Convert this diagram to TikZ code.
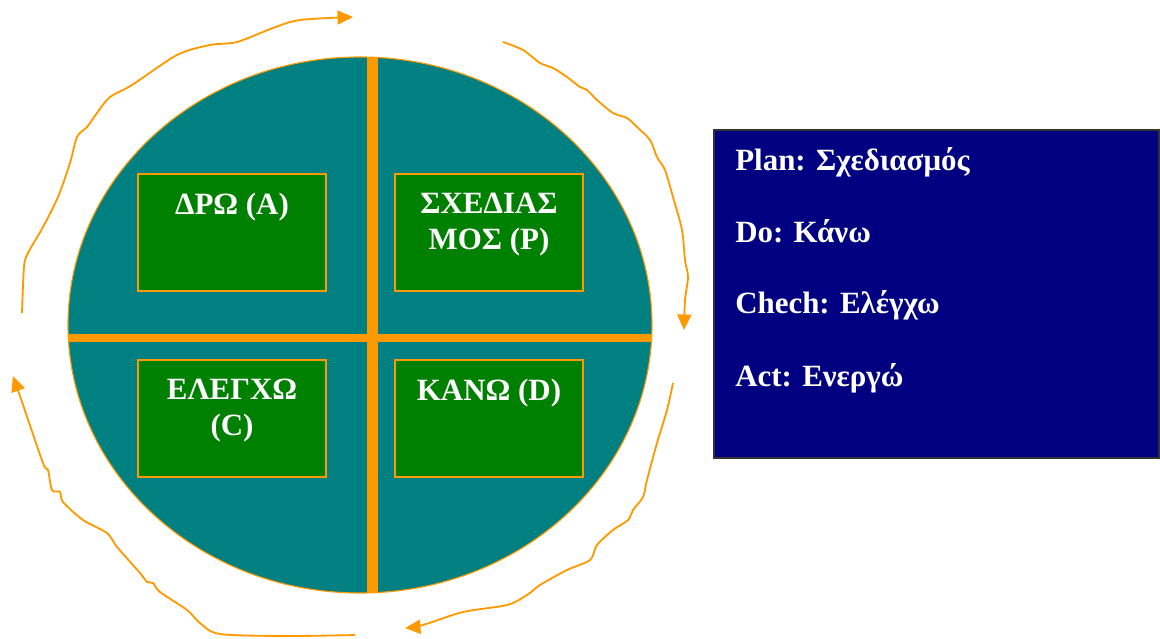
\documentclass[tikz,border=0pt]{standalone}
\usepackage{fontspec}
\setmainfont{Liberation Serif}
\usetikzlibrary{arrows.meta}
\definecolor{discteal}{HTML}{008080}
\definecolor{quadgreen}{HTML}{008000}
\definecolor{cycleorange}{HTML}{FF9900}
\definecolor{panelnavy}{HTML}{000080}
\begin{document}
\begin{tikzpicture}
	[x=0.025cm,y=-0.025cm,
	quad/.style={draw=cycleorange,fill=quadgreen,line width=0.8pt,minimum width=4.7cm,minimum height=2.925cm,inner sep=0pt},
	quadtext/.style={text=white,font=\fontsize{22}{26}\selectfont\bfseries,align=center,anchor=north,inner sep=0pt},
	paneltext/.style={text=white,font=\fontsize{22}{26}\selectfont\bfseries,anchor=base west,inner sep=0pt},
	cycle/.style={draw=cycleorange,line width=1.3pt,-{Triangle[length=11pt,width=10pt]}}]
	\useasboundingbox (0,0) rectangle (1160,639);
	\fill[discteal] (360,325) ellipse [x radius=292, y radius=268];
	\begin{scope}
	\clip (360,325) ellipse [x radius=292, y radius=268];
	\fill[cycleorange] (366.5,0) rectangle (377.5,639);
	\fill[cycleorange] (0,333.5) rectangle (700,341.5);
	\end{scope}
	\draw[cycleorange,line width=0.8pt] (360,325) ellipse [x radius=292, y radius=268];
	\node[quad] (act) at (232,232.5) {};
	\node[quad] (plan) at (489,232.5) {};
	\node[quad] (check) at (232,418.5) {};
	\node[quad] (do) at (489,418.5) {};
	\node[quadtext] (acttext) at (232,192.5) {ΔΡΩ (A)};
	\node[quadtext] (plantext) at (489,192.5) {ΣΧΕΔΙΑΣ\\ΜΟΣ (P)};
	\node[quadtext] (checktext) at (232,378.5) {ΕΛΕΓΧΩ\\(C)};
	\node[quadtext] (dotext) at (489,378.5) {ΚΑΝΩ (D)};
	\node[draw=black!80,fill=panelnavy,line width=1.1pt,minimum width=11.125cm,minimum height=8.2cm] (legend) at (936.5,294) {};
	\node[paneltext] (lplan) at (735,170) {Plan: Σχεδιασμός};
	\node[paneltext] (ldo) at (735,242) {Do: Κάνω};
	\node[paneltext] (lcheck) at (735,313) {Chech: Ελέγχω};
	\node[paneltext] (lact) at (735,386) {Act: Ενεργώ};
	\draw[cycle] plot[smooth,tension=0.5] coordinates {(22,313) (24,267) (28,253) (43,227) (58,197) (70,163) (77,137) (87,127) (97,113) (110,97) (132,85) (177,55) (210,45) (237,42) (273,28) (300,20) (353,17)};
	\draw[cycle] plot[smooth,tension=0.5] coordinates {(503,42) (523,50) (540,63) (553,68) (567,77) (580,87) (587,90) (597,100) (613,113) (627,118) (637,127) (650,140) (657,157) (665,170) (673,197) (682,230) (685,260) (688,277) (685,300) (684,330)};
	\draw[cycle] plot[smooth,tension=0.5] coordinates {(673,383) (667,410) (657,443) (647,480) (643,497) (633,510) (628,520) (613,530) (597,545) (590,560) (567,570) (540,585) (527,595) (507,605) (463,612) (423,625) (405,628)};
	\draw[cycle] plot[smooth,tension=0.5] coordinates {(355,635) (287,636) (220,634) (200,623) (187,610) (160,592) (153,583) (147,582) (140,573) (117,547) (107,533) (83,520) (63,502) (60,492) (52,490) (48,470) (43,463) (20,396) (13,376)};
\end{tikzpicture}
\end{document}
